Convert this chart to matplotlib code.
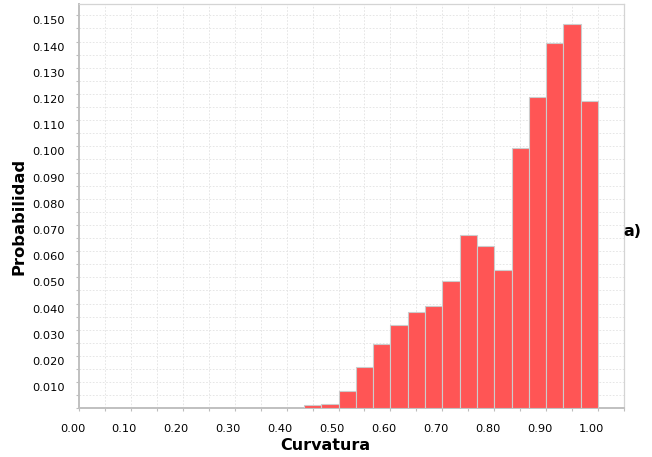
import numpy as np
import matplotlib
matplotlib.use("Agg")
import matplotlib.pyplot as plt
from matplotlib.transforms import ScaledTranslation

# ---------- data ----------
bin_edges = np.arange(13, 31) / 30.0
probabilidad = [0.0014, 0.0016, 0.0065, 0.0157, 0.0244, 0.0319, 0.0366, 0.0390,
                0.0485, 0.0660, 0.0619, 0.0528, 0.0995, 0.1189, 0.1395, 0.1468,
                0.1173]
x_ticks = np.arange(0, 1.01, 0.1)
x_labels = [f"{v:.2f}" for v in x_ticks]
y_ticks = np.arange(0.01, 0.151, 0.01)
y_labels = [f"{v:.3f}" for v in y_ticks]

W, H = 652, 457
fig = plt.figure(figsize=(W / 100, H / 100), dpi=100)
ax = fig.add_axes([79 / W, (H - 408.3) / H, (624 - 79) / W, (408.3 - 4.3) / H])

ax.bar(bin_edges[:-1], probabilidad, width=np.diff(bin_edges), align="edge",
       color="#ff5555", edgecolor="#cccccc", linewidth=0.8, zorder=3)

ax.set_xlim(0, 1.05)
ax.set_ylim(0, 0.1542)

ax.set_xticks(x_ticks)
ax.set_xticklabels(x_labels, fontsize=8.2)
ax.set_xticks(np.arange(0, 1.051, 0.05), minor=True)
ax.set_yticks(y_ticks)
ax.set_yticklabels(y_labels, fontsize=8.2)
ax.set_yticks(np.arange(0, 0.1541, 0.005), minor=True)

ax.tick_params(which="both", direction="out", length=2.5, width=0.8,
               color="#bdbdbd")
ax.tick_params(axis="x", pad=9)
ax.tick_params(axis="y", pad=8)

ax.grid(which="both", color="#e2e2e2", linestyle=(0, (2, 2)), linewidth=0.6,
        zorder=0)
ax.set_axisbelow(True)

for side in ["left", "bottom"]:
    ax.spines[side].set_color("#c0c0c0")
    ax.spines[side].set_linewidth(1.4)
for side in ["top", "right"]:
    ax.spines[side].set_color("#d4d4d4")
    ax.spines[side].set_linewidth(0.9)

# labels in the original sit a few pixels off their ticks
px = 0.72 / 72
for lab in ax.get_xticklabels():
    lab.set_transform(lab.get_transform() +
                      ScaledTranslation(-6.5 * px, 0, fig.dpi_scale_trans))
for lab in ax.get_yticklabels():
    lab.set_transform(lab.get_transform() +
                      ScaledTranslation(0, -5 * px, fig.dpi_scale_trans))

fig.text(325 / W, 1 - 445 / H, "Curvatura", fontsize=11.5, fontweight="bold",
         ha="center", va="center")
fig.text(19 / W, 1 - 216 / H, "Probabilidad", fontsize=11.8, fontweight="bold",
         rotation=90, ha="center", va="center")
fig.text(623 / W, 1 - 231 / H, "a)", fontsize=11.5, fontweight="bold",
         ha="left", va="center")

fig.savefig("out.png", dpi=100)
